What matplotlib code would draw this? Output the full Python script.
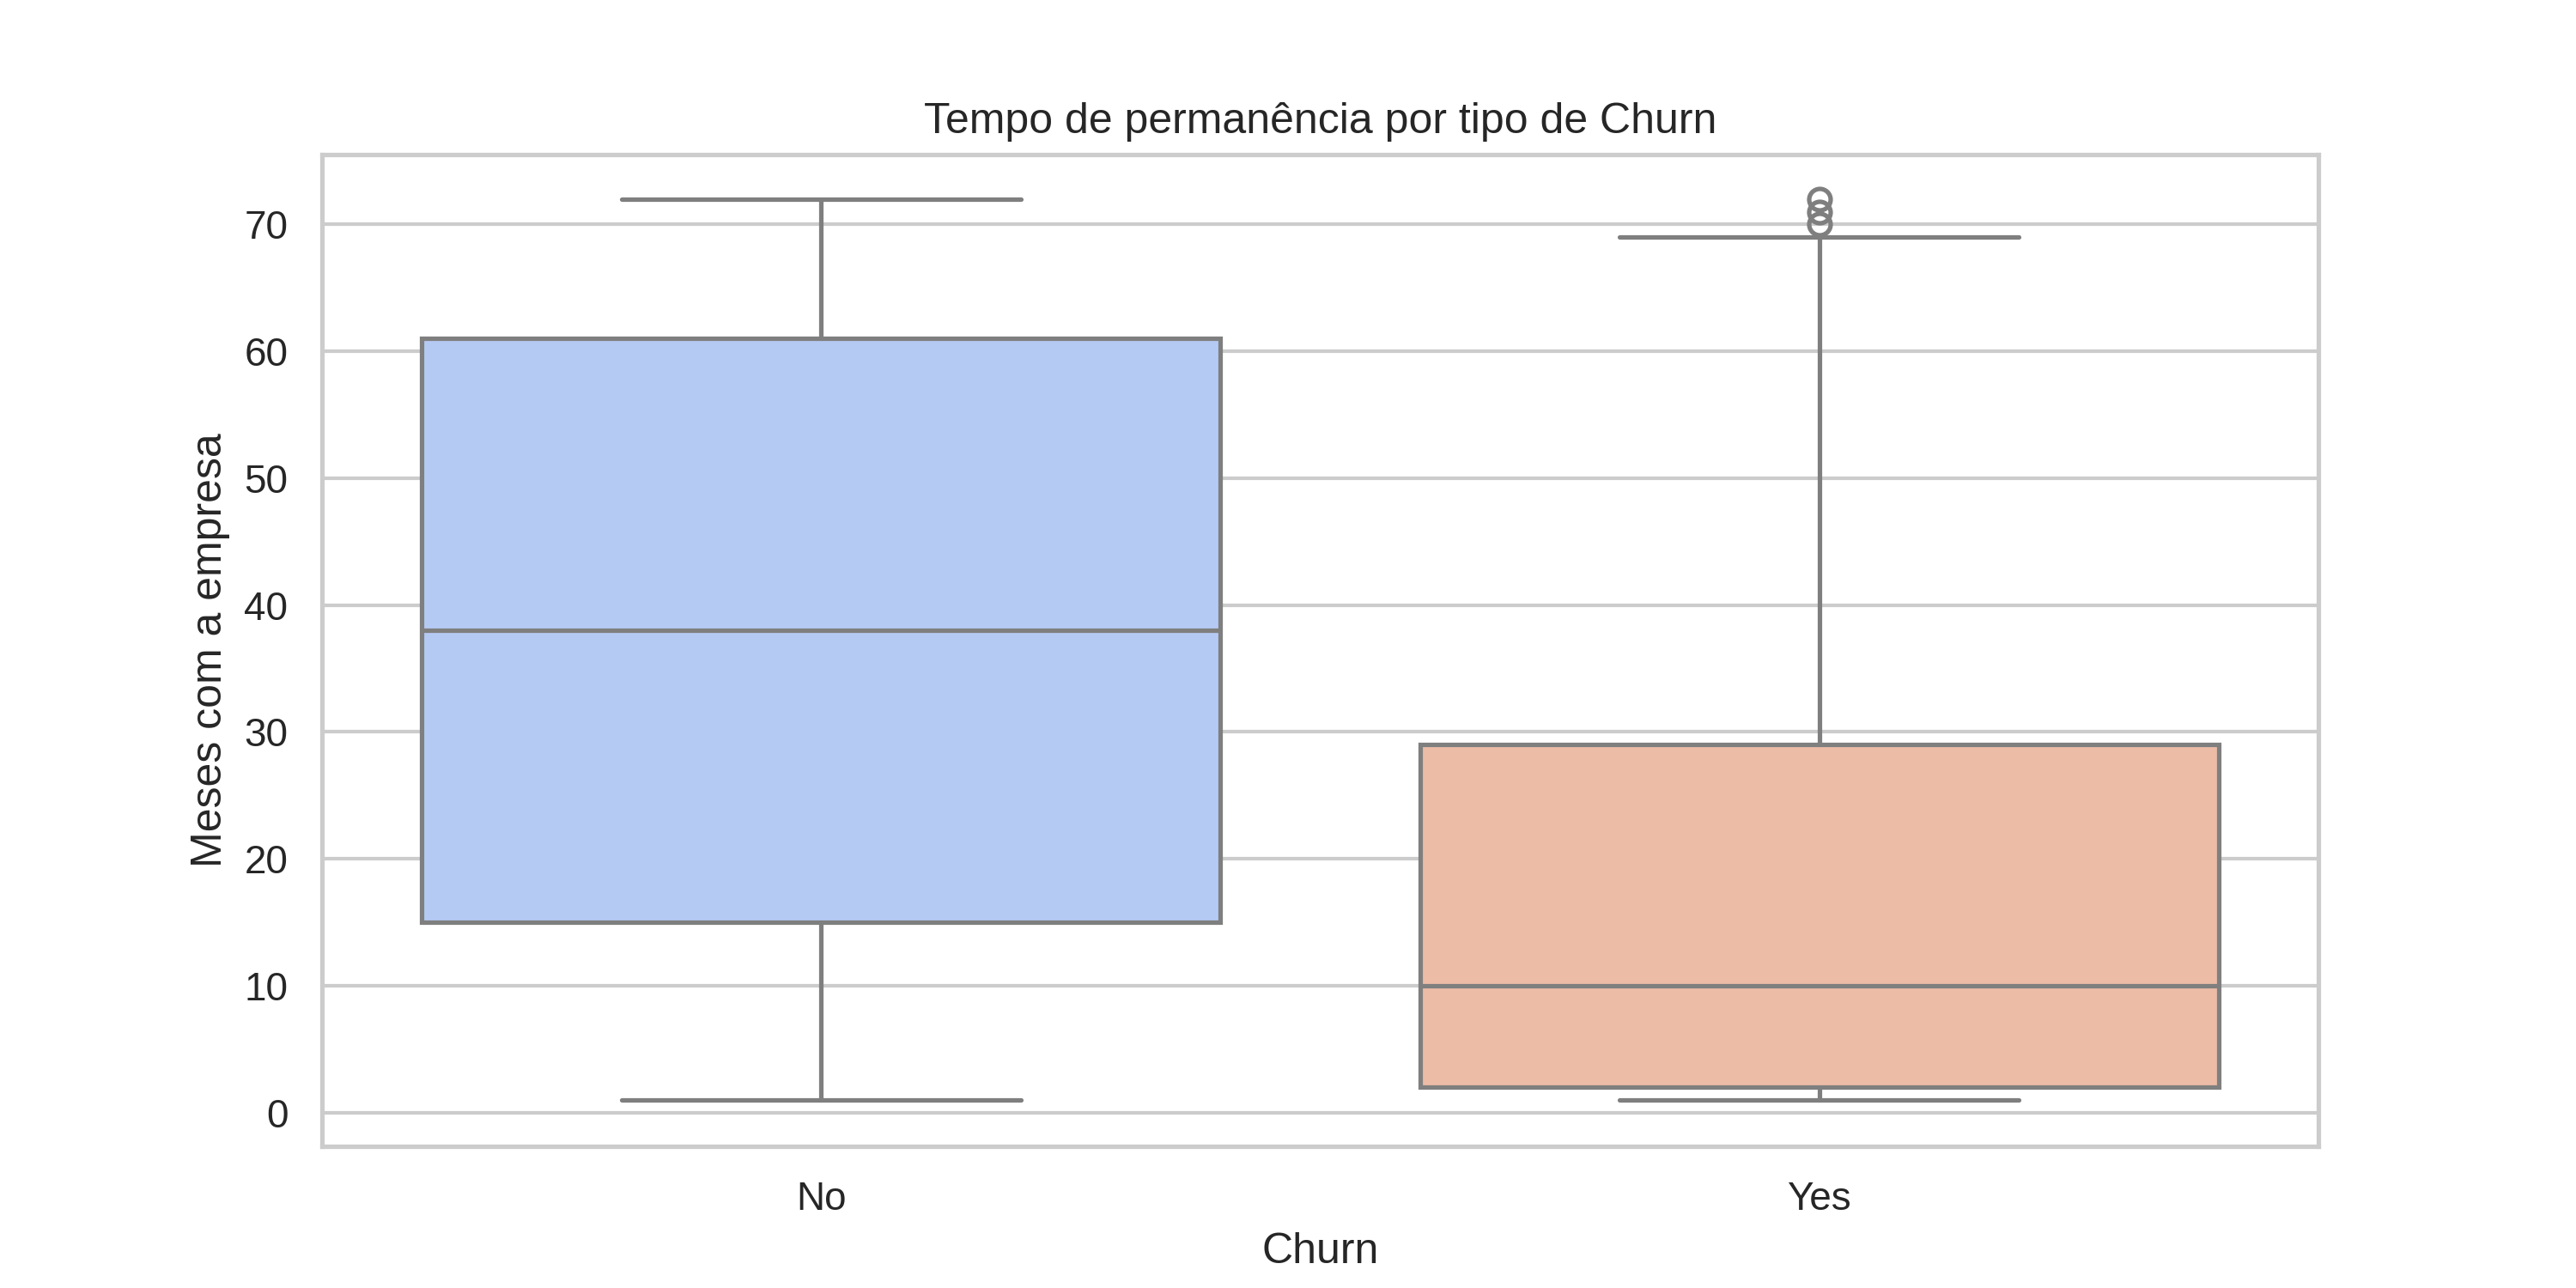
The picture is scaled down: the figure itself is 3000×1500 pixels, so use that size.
import matplotlib
matplotlib.use("Agg")
import matplotlib.pyplot as plt
import seaborn as sns

# box stats (tenure in months)
churn = ["No", "Yes"]
whislo = [1, 1]
q1 = [15, 2]
med = [38, 10]
q3 = [61, 29]
whishi = [72, 69]
fliers = [[], [70, 71, 72]]

sns.set_theme(style="whitegrid")
plt.rcParams['font.family'] = ['Liberation Sans', 'DejaVu Sans']

palette = [sns.desaturate(c, 0.75) for c in sns.color_palette("coolwarm", 2)]
line_c = "#7f7f7f"

stats = []
for i, name in enumerate(churn):
    stats.append({"label": name, "whislo": whislo[i], "q1": q1[i], "med": med[i],
                  "q3": q3[i], "whishi": whishi[i], "fliers": fliers[i]})

fig, ax = plt.subplots(figsize=(10, 5), dpi=300)
bp = ax.bxp(stats, positions=[0, 1], widths=0.8, patch_artist=True, showfliers=True,
            boxprops=dict(edgecolor=line_c, linewidth=1.25),
            medianprops=dict(color=line_c, linewidth=1.25),
            whiskerprops=dict(color=line_c, linewidth=1.25),
            capprops=dict(color=line_c, linewidth=1.25),
            flierprops=dict(marker="o", markerfacecolor="none", markeredgecolor=line_c,
                            markersize=6, markeredgewidth=1.25),
            capwidths=0.4)
for patch, c in zip(bp["boxes"], palette):
    patch.set_facecolor(c)

ax.set_xlim(-0.5, 1.5)
ax.set_ylim(-2.65, 75.5)
ax.set_xticks([0, 1])
ax.set_xticklabels(churn)
ax.xaxis.grid(False)
ax.set_title("Tempo de permanência por tipo de Churn")
ax.set_xlabel("Churn")
ax.set_ylabel("Meses com a empresa")

plt.savefig("out.png")
plt.close()
